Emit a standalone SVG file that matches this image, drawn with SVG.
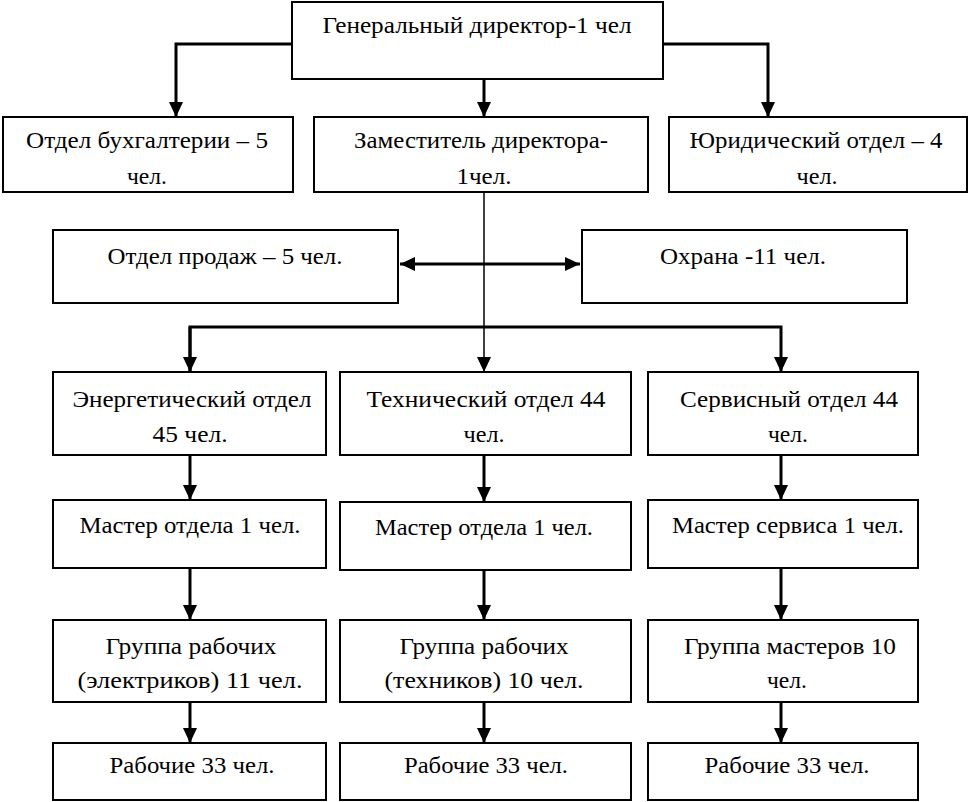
<svg xmlns="http://www.w3.org/2000/svg" width="969" height="802" viewBox="0 0 969 802">
<style>
.box{fill:#fff;stroke:#000;stroke-width:2}
.t{font-size:24px;fill:#000;text-anchor:middle}
.c{fill:none;stroke:#000;stroke-width:3}
.thin{fill:none;stroke:#000;stroke-width:1.5}
</style>
<defs>
<marker id="ah" markerUnits="userSpaceOnUse" markerWidth="16" markerHeight="14" refX="15" refY="7" orient="auto"><path d="M0,0 L15,7 L0,14 z" fill="#000"/></marker>
<marker id="ahs" markerUnits="userSpaceOnUse" markerWidth="16" markerHeight="14" refX="1" refY="7" orient="auto"><path d="M16,0 L1,7 L16,14 z" fill="#000"/></marker>
</defs>
<rect width="969" height="802" fill="#fff"/>
<g id="connectors">
<path class="c" d="M292,44 H176 V117" marker-end="url(#ah)"/>
<path class="c" d="M484,79 V117" marker-end="url(#ah)"/>
<path class="c" d="M663,44 H768 V117" marker-end="url(#ah)"/>
<path class="thin" d="M484,192 V372" marker-end="url(#ah)"/>
<path class="c" d="M400,264 H580" marker-start="url(#ahs)" marker-end="url(#ah)"/>
<path class="c" d="M190,372 V327 H781 V372" marker-end="url(#ah)"/>
<path class="c" d="M190,327 V372" marker-end="url(#ah)"/>
<path class="c" d="M190,455 V500" marker-end="url(#ah)"/>
<path class="c" d="M484,455 V502" marker-end="url(#ah)"/>
<path class="c" d="M781,455 V500" marker-end="url(#ah)"/>
<path class="c" d="M190,568 V620" marker-end="url(#ah)"/>
<path class="c" d="M484,570 V620" marker-end="url(#ah)"/>
<path class="c" d="M781,568 V620" marker-end="url(#ah)"/>
<path class="c" d="M190,702 V743" marker-end="url(#ah)"/>
<path class="c" d="M484,702 V743" marker-end="url(#ah)"/>
<path class="c" d="M781,702 V743" marker-end="url(#ah)"/>
</g>
<g id="nodes" font-family="Times New Roman, Liberation Serif, serif">
<g id="gen"><rect class="box" x="292" y="2" width="371" height="77"/><text class="t" x="477" y="33" textLength="309" lengthAdjust="spacingAndGlyphs">Генеральный директор-1 чел</text></g>
<g id="buh"><rect class="box" x="3" y="117" width="290" height="75"/><text class="t" x="147" y="148" textLength="242" lengthAdjust="spacingAndGlyphs">Отдел бухгалтерии – 5</text><text class="t" x="147" y="184" textLength="40" lengthAdjust="spacingAndGlyphs">чел.</text></g>
<g id="zam"><rect class="box" x="314" y="117" width="334" height="75"/><text class="t" x="481" y="148" textLength="254" lengthAdjust="spacingAndGlyphs">Заместитель директора-</text><text class="t" x="484" y="184" textLength="55" lengthAdjust="spacingAndGlyphs">1чел.</text></g>
<g id="yur"><rect class="box" x="669" y="117" width="298" height="75"/><text class="t" x="816" y="148" textLength="253" lengthAdjust="spacingAndGlyphs">Юридический отдел – 4</text><text class="t" x="817" y="184" textLength="41" lengthAdjust="spacingAndGlyphs">чел.</text></g>
<g id="prod"><rect class="box" x="53" y="230" width="345" height="73"/><text class="t" x="225" y="264" textLength="235" lengthAdjust="spacingAndGlyphs">Отдел продаж – 5 чел.</text></g>
<g id="ohr"><rect class="box" x="582" y="230" width="325" height="73"/><text class="t" x="743" y="264" textLength="166" lengthAdjust="spacingAndGlyphs">Охрана -11 чел.</text></g>
<g id="energ"><rect class="box" x="53" y="372" width="273" height="83"/><text class="t" x="192" y="407" textLength="239" lengthAdjust="spacingAndGlyphs">Энергетический отдел</text><text class="t" x="190" y="442" textLength="75" lengthAdjust="spacingAndGlyphs">45 чел.</text></g>
<g id="tech"><rect class="box" x="340" y="372" width="291" height="83"/><text class="t" x="486" y="407" textLength="239" lengthAdjust="spacingAndGlyphs">Технический отдел 44</text><text class="t" x="484" y="442" textLength="41" lengthAdjust="spacingAndGlyphs">чел.</text></g>
<g id="serv"><rect class="box" x="648" y="372" width="270" height="83"/><text class="t" x="789" y="407" textLength="218" lengthAdjust="spacingAndGlyphs">Сервисный отдел 44</text><text class="t" x="788" y="442" textLength="40" lengthAdjust="spacingAndGlyphs">чел.</text></g>
<g id="m1"><rect class="box" x="53" y="500" width="273" height="68"/><text class="t" x="190" y="533" textLength="221" lengthAdjust="spacingAndGlyphs">Мастер отдела 1 чел.</text></g>
<g id="m2"><rect class="box" x="340" y="502" width="291" height="68"/><text class="t" x="484" y="535" textLength="218" lengthAdjust="spacingAndGlyphs">Мастер отдела 1 чел.</text></g>
<g id="m3"><rect class="box" x="648" y="500" width="270" height="68"/><text class="t" x="788" y="533" textLength="232" lengthAdjust="spacingAndGlyphs">Мастер сервиса 1 чел.</text></g>
<g id="g1"><rect class="box" x="53" y="620" width="273" height="82"/><text class="t" x="191" y="654" textLength="171" lengthAdjust="spacingAndGlyphs">Группа рабочих</text><text class="t" x="190" y="688" textLength="225" lengthAdjust="spacingAndGlyphs">(электриков)  11 чел.</text></g>
<g id="g2"><rect class="box" x="340" y="620" width="291" height="82"/><text class="t" x="484" y="654" textLength="169" lengthAdjust="spacingAndGlyphs">Группа рабочих</text><text class="t" x="484" y="688" textLength="199" lengthAdjust="spacingAndGlyphs">(техников) 10 чел.</text></g>
<g id="g3"><rect class="box" x="648" y="620" width="270" height="82"/><text class="t" x="790" y="654" textLength="212" lengthAdjust="spacingAndGlyphs">Группа мастеров 10</text><text class="t" x="787" y="688" textLength="40" lengthAdjust="spacingAndGlyphs">чел.</text></g>
<g id="r1"><rect class="box" x="53" y="743" width="273" height="57"/><text class="t" x="192" y="773" textLength="165" lengthAdjust="spacingAndGlyphs">Рабочие 33 чел.</text></g>
<g id="r2"><rect class="box" x="340" y="743" width="291" height="57"/><text class="t" x="486" y="773" textLength="164" lengthAdjust="spacingAndGlyphs">Рабочие 33 чел.</text></g>
<g id="r3"><rect class="box" x="648" y="743" width="270" height="57"/><text class="t" x="787" y="773" textLength="165" lengthAdjust="spacingAndGlyphs">Рабочие 33 чел.</text></g>
</g>
</svg>
